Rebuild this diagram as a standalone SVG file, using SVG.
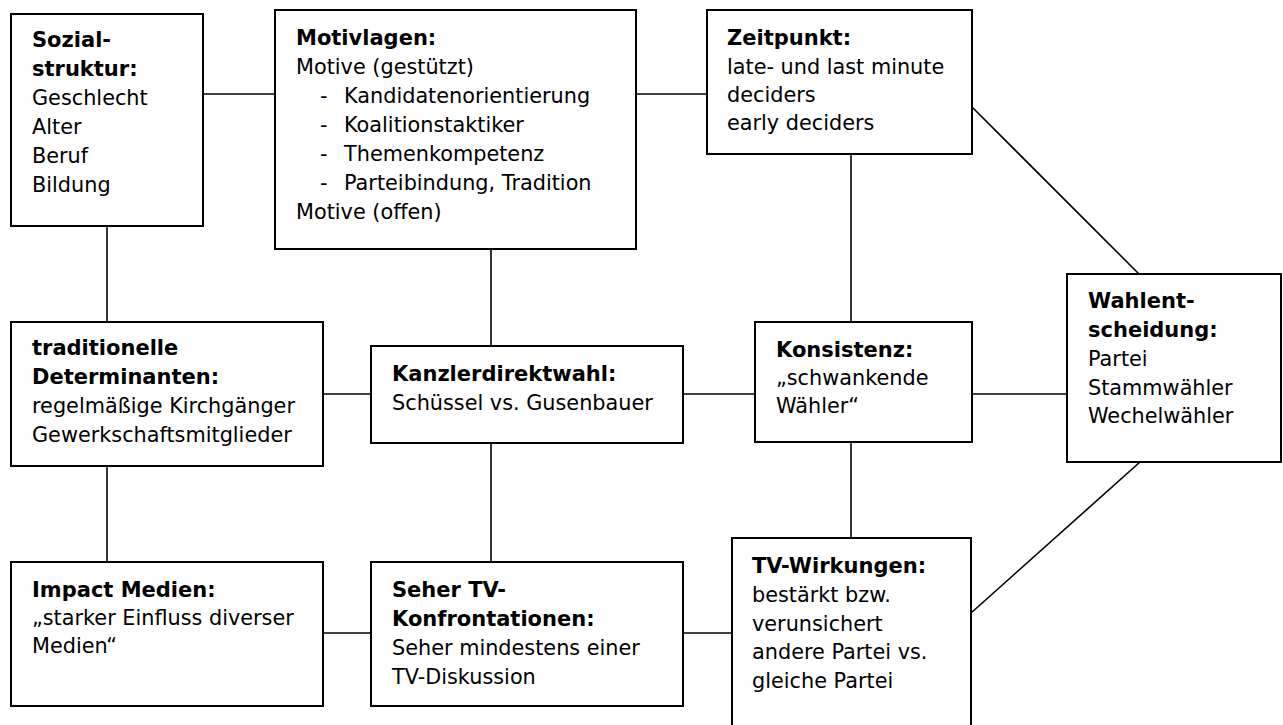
<svg xmlns="http://www.w3.org/2000/svg" width="1283" height="725" viewBox="0 0 1283 725">
  <style>
    .box { fill: #ffffff; stroke: #000000; stroke-width: 2; }
    .link { stroke: #000000; stroke-width: 1.6; fill: none; }
    text { font-family: "DejaVu Sans", Verdana, sans-serif; font-size: 20.8px; fill: #000000; }
    .h { font-weight: bold; font-size: 21px; }
  </style>
  <rect width="1283" height="725" fill="#ffffff"/>

  <!-- connectors -->
  <g id="connectors">
    <line class="link" x1="203" y1="94" x2="275" y2="94"/>
    <line class="link" x1="636" y1="94" x2="707" y2="94"/>
    <line class="link" x1="107" y1="226" x2="107" y2="322"/>
    <line class="link" x1="491" y1="249" x2="491" y2="346"/>
    <line class="link" x1="851" y1="154" x2="851" y2="322"/>
    <line class="link" x1="972" y1="107" x2="1139" y2="274"/>
    <line class="link" x1="323" y1="394" x2="371" y2="394"/>
    <line class="link" x1="683" y1="394" x2="755" y2="394"/>
    <line class="link" x1="972" y1="394" x2="1067" y2="394"/>
    <line class="link" x1="107" y1="466" x2="107" y2="562"/>
    <line class="link" x1="491" y1="443" x2="491" y2="562"/>
    <line class="link" x1="851" y1="442" x2="851" y2="538"/>
    <line class="link" x1="323" y1="633" x2="371" y2="633"/>
    <line class="link" x1="683" y1="633" x2="732" y2="633"/>
    <line class="link" x1="971" y1="613" x2="1140" y2="462"/>
  </g>

  <g id="sozialstruktur">
    <rect class="box" x="11" y="14" width="192" height="212"/>
    <text x="32" y="47" class="h">Sozial-</text>
    <text x="32" y="76" class="h">struktur:</text>
    <text x="32" y="105">Geschlecht</text>
    <text x="32" y="134">Alter</text>
    <text x="32" y="163">Beruf</text>
    <text x="32" y="192">Bildung</text>
  </g>

  <g id="motivlagen">
    <rect class="box" x="275" y="10" width="361" height="239"/>
    <text x="296" y="45" class="h">Motivlagen:</text>
    <text x="296" y="74">Motive (gestützt)</text>
    <text x="320" y="103">-</text>
    <text x="344" y="103">Kandidatenorientierung</text>
    <text x="320" y="132">-</text>
    <text x="344" y="132">Koalitionstaktiker</text>
    <text x="320" y="161">-</text>
    <text x="344" y="161">Themenkompetenz</text>
    <text x="320" y="190">-</text>
    <text x="344" y="190">Parteibindung, Tradition</text>
    <text x="296" y="219">Motive (offen)</text>
  </g>

  <g id="zeitpunkt">
    <rect class="box" x="707" y="10" width="265" height="144"/>
    <text x="727" y="45" class="h">Zeitpunkt:</text>
    <text x="727" y="74">late- und last minute</text>
    <text x="727" y="102">deciders</text>
    <text x="727" y="130">early deciders</text>
  </g>

  <g id="traditionelle-determinanten">
    <rect class="box" x="11" y="322" width="312" height="144"/>
    <text x="32" y="355" class="h">traditionelle</text>
    <text x="32" y="384" class="h">Determinanten:</text>
    <text x="32" y="413">regelmäßige Kirchgänger</text>
    <text x="32" y="442">Gewerkschaftsmitglieder</text>
  </g>

  <g id="kanzlerdirektwahl">
    <rect class="box" x="371" y="346" width="312" height="97"/>
    <text x="392" y="381" class="h">Kanzlerdirektwahl:</text>
    <text x="392" y="410">Schüssel vs. Gusenbauer</text>
  </g>

  <g id="konsistenz">
    <rect class="box" x="755" y="322" width="217" height="120"/>
    <text x="776" y="357" class="h">Konsistenz:</text>
    <text x="776" y="385">„schwankende</text>
    <text x="776" y="413">Wähler“</text>
  </g>

  <g id="wahlentscheidung">
    <rect class="box" x="1067" y="274" width="214" height="188"/>
    <text x="1088" y="308" class="h">Wahlent-</text>
    <text x="1088" y="337" class="h">scheidung:</text>
    <text x="1088" y="366">Partei</text>
    <text x="1088" y="395">Stammwähler</text>
    <text x="1088" y="423">Wechelwähler</text>
  </g>

  <g id="impact-medien">
    <rect class="box" x="11" y="562" width="312" height="144"/>
    <text x="32" y="597" class="h">Impact Medien:</text>
    <text x="32" y="625">„starker Einfluss diverser</text>
    <text x="32" y="653">Medien“</text>
  </g>

  <g id="seher-tv">
    <rect class="box" x="371" y="562" width="312" height="144"/>
    <text x="392" y="597" class="h">Seher TV-</text>
    <text x="392" y="626" class="h">Konfrontationen:</text>
    <text x="392" y="655">Seher mindestens einer</text>
    <text x="392" y="684">TV-Diskussion</text>
  </g>

  <g id="tv-wirkungen">
    <rect class="box" x="732" y="538" width="239" height="200"/>
    <text x="752" y="573" class="h">TV-Wirkungen:</text>
    <text x="752" y="602">bestärkt bzw.</text>
    <text x="752" y="631">verunsichert</text>
    <text x="752" y="659">andere Partei vs.</text>
    <text x="752" y="688">gleiche Partei</text>
  </g>
</svg>
